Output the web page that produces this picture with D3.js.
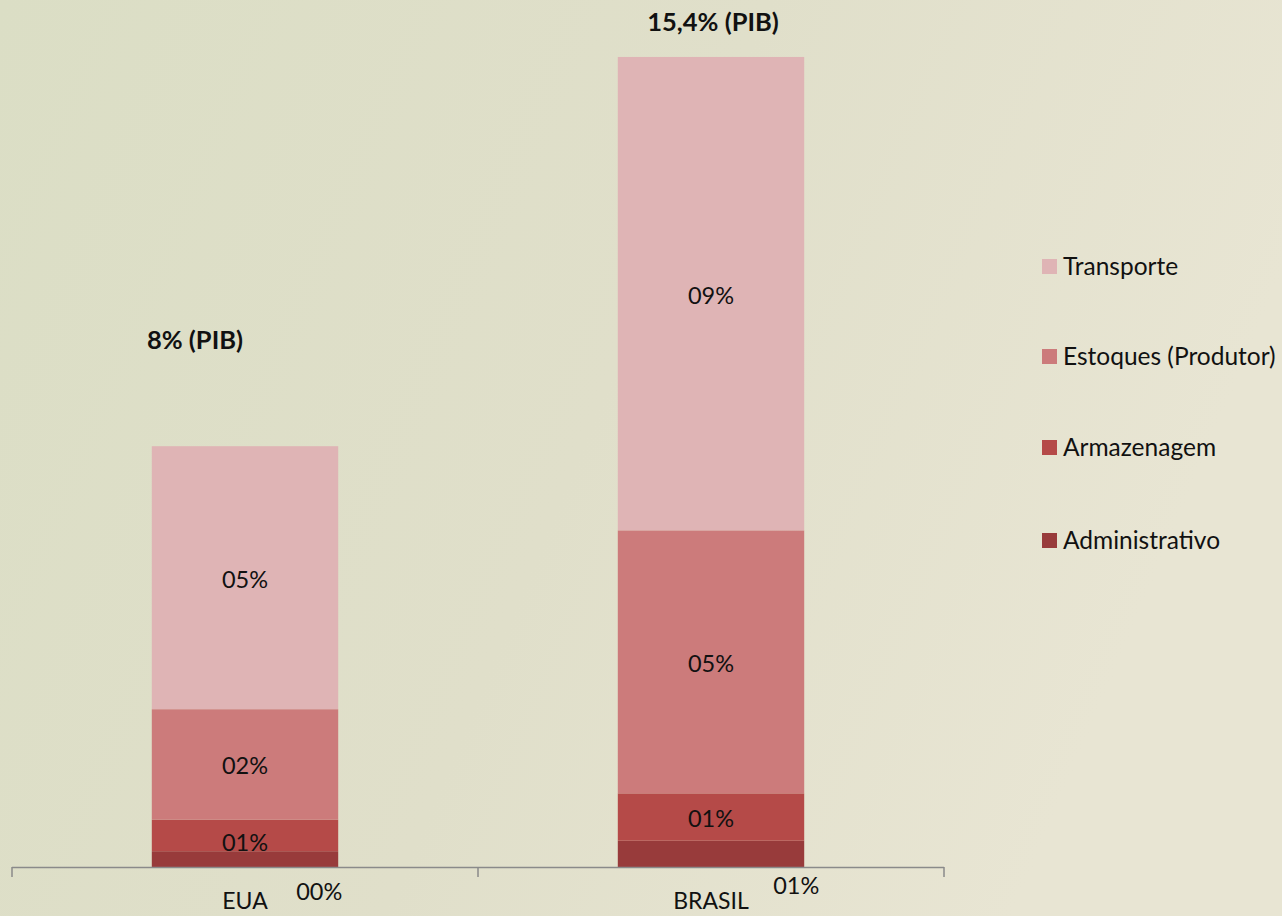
<!DOCTYPE html>
<html>
<head>
<meta charset="utf-8">
<script src="https://cdn.jsdelivr.net/npm/d3@7"></script>
<style>
  html, body { margin: 0; padding: 0; }
  body { width: 1282px; height: 916px; overflow: hidden; }
  svg { display: block; }
  text { font-family: Lato, "Open Sans", sans-serif; fill: #111; }
</style>
</head>
<body>
<svg id="chart" width="1282" height="916"></svg>
<script>
// ---- data ----
const categories = ["EUA", "BRASIL"];
const seriesNames = ["Administrativo", "Armazenagem", "Estoques (Produtor)", "Transporte"];
const administrativo = [0.3, 0.5];
const armazenagem = [0.6, 0.9];
const estoques = [2.1, 5.0];
const transporte = [5.0, 9.0];
const totalLabels = ["8% (PIB)", "15,4% (PIB)"];
const legendOrder = ["Transporte", "Estoques (Produtor)", "Armazenagem", "Administrativo"];

// ---- styles ----
const colors = {
  "Administrativo": "#983b3b",
  "Armazenagem": "#b54a48",
  "Estoques (Produtor)": "#cc7b7b",
  "Transporte": "#dfb4b5"
};

const svg = d3.select("#chart");
const W = 1282, H = 916;

// background
const defs = svg.append("defs");
const grad = defs.append("linearGradient").attr("id", "bg").attr("x1", "0").attr("y1", "0").attr("x2", "1").attr("y2", "0.3");
grad.append("stop").attr("offset", "0%").attr("stop-color", "#dbdec5");
grad.append("stop").attr("offset", "55%").attr("stop-color", "#e0dfca");
grad.append("stop").attr("offset", "100%").attr("stop-color", "#e8e5d3");
svg.append("rect").attr("width", W).attr("height", H).attr("fill", "url(#bg)");

const seriesValues = {
  "Administrativo": administrativo,
  "Armazenagem": armazenagem,
  "Estoques (Produtor)": estoques,
  "Transporte": transporte
};

const rows = categories.map((c, i) => {
  const r = { cat: c };
  seriesNames.forEach(s => r[s] = seriesValues[s][i]);
  return r;
});
const stacked = d3.stack().keys(seriesNames)(rows);

const x = d3.scaleBand().domain(categories).range([12, 944]).padding(0);
const barW = x.bandwidth() * 0.4;
const barX = c => x(c) + (x.bandwidth() - barW) / 2;
const baseY = 867;
const y = d3.scaleLinear().domain([0, 16]).range([baseY, baseY - 16 * 52.6]);

const fmt = v => String(Math.round(v)).padStart(2, "0") + "%";

// bars
const g = svg.append("g");
stacked.forEach(layer => {
  g.selectAll(null).data(layer).enter().append("rect")
    .attr("x", d => barX(d.data.cat))
    .attr("width", barW)
    .attr("y", d => y(d[1]))
    .attr("height", d => y(d[0]) - y(d[1]))
    .attr("fill", colors[layer.key]);
});

// segment labels
stacked.forEach(layer => {
  g.selectAll(null).data(layer).enter().append("text")
    .attr("text-anchor", "middle")
    .attr("font-size", 23.5)
    .attr("x", d => layer.key === "Administrativo"
      ? barX(d.data.cat) + barW - (d.data.cat === "EUA" ? 19 : 8)
      : barX(d.data.cat) + barW / 2)
    .attr("y", d => {
      if (layer.key === "Administrativo") return baseY + (d.data.cat === "EUA" ? 33 : 27);
      const extra = (layer.key === "Armazenagem" && d.data.cat === "EUA") ? 6 : 0;
      return (y(d[0]) + y(d[1])) / 2 + 10 + extra;
    })
    .text(d => fmt(d[1] - d[0]));
});

// total labels
const totals = rows.map(r => d3.sum(seriesNames, s => r[s]));
g.selectAll(null).data(categories).enter().append("text")
  .attr("font-weight", "bold")
  .attr("font-size", 25.5)
  .attr("text-anchor", "middle")
  .attr("x", (c, i) => i === 0 ? 195 : barX(c) + barW / 2 + 2)
  .attr("y", (c, i) => i === 0 ? y(totals[i]) - 97 : y(totals[i]) - 26)
  .text((c, i) => totalLabels[i]);

// axis
const axis = svg.append("g").attr("transform", `translate(0,${baseY})`)
  .call(d3.axisBottom(x).tickSize(0).tickPadding(22));
axis.select(".domain").remove();
axis.selectAll("text").attr("font-size", 23).attr("font-family", "Lato, 'Open Sans', sans-serif").attr("fill", "#111").attr("dy", "0.85em");
axis.append("line").attr("x1", 12).attr("x2", 944).attr("y1", 0.5).attr("y2", 0.5).attr("stroke", "#8a8a8a").attr("stroke-width", 1.5);
const tickPos = [x(categories[0]), x(categories[1]), x(categories[1]) + x.bandwidth()];
axis.selectAll(".tk").data(tickPos).enter().append("line")
  .attr("x1", d => d).attr("x2", d => d).attr("y1", 0).attr("y2", 10)
  .attr("stroke", "#8a8a8a").attr("stroke-width", 1.5);

// legend
const lg = svg.append("g");
const legendY = [266, 356, 447, 540];
legendOrder.forEach((s, i) => {
  lg.append("rect").attr("x", 1042).attr("y", legendY[i] - 7).attr("width", 15).attr("height", 15).attr("fill", colors[s]);
  lg.append("text").attr("x", 1063).attr("y", legendY[i] + 9).attr("font-size", 24.5).text(s);
});
</script>
</body>
</html>
